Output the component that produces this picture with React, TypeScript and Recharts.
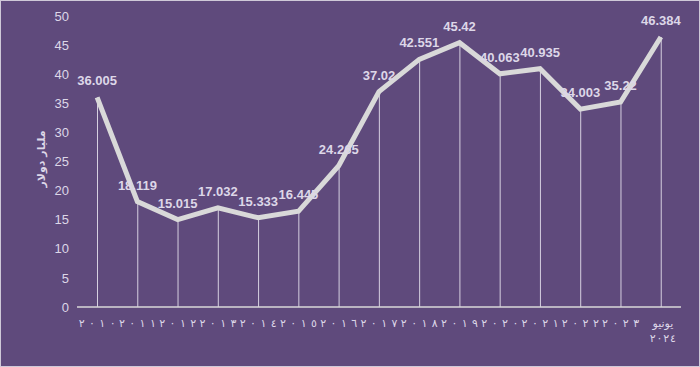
import { Bar, ComposedChart, LabelList, Line, XAxis, YAxis, Label } from 'recharts';

const years = [
  '٢٠١٠', '٢٠١١', '٢٠١٢', '٢٠١٣', '٢٠١٤', '٢٠١٥', '٢٠١٦', '٢٠١٧',
  '٢٠١٨', '٢٠١٩', '٢٠٢٠', '٢٠٢١', '٢٠٢٢', '٢٠٢٣', 'يونيو ٢٠٢٤',
];
const values = [
  36.005, 18.119, 15.015, 17.032, 15.333, 16.445, 24.265, 37.02,
  42.551, 45.42, 40.063, 40.935, 34.003, 35.22, 46.384,
];
const yTicks = [0, 5, 10, 15, 20, 25, 30, 35, 40, 45, 50];

const palette = {
  bg: '#5f4a7c',
  line: '#d9d9d9',
  drop: '#d6d0e0',
  text: '#ddd7e8',
};

const chartData = years.map((year, i) => ({ year, value: values[i] }));

function YearTick(props: any) {
  const { x, y, payload } = props;
  const parts = String(payload.value).split(' ');
  const multi = parts.length > 1;
  return (
    <text
      x={x}
      y={y}
      textAnchor="middle"
      fill={palette.text}
      fontSize={11}
      fontFamily="DejaVu Sans"
    >
      {parts.map((p, i) => (
        <tspan
          key={i}
          x={multi ? x + 2 : x}
          dy={i === 0 ? 12 : 15}
          textLength={multi ? (i === 0 ? undefined : 26) : 37}
          lengthAdjust="spacing"
        >
          {p}
        </tspan>
      ))}
    </text>
  );
}

export default function App() {
  return (
    <div
      style={{
        position: 'fixed',
        top: 0,
        left: 0,
        width: 700,
        height: 367,
        boxSizing: 'border-box',
        background: palette.bg,
        border: '1px solid #cfc9d8',
      }}
    >
      <ComposedChart
        width={698}
        height={365}
        data={chartData}
        margin={{ top: 15, right: 18, left: 26, bottom: 20 }}
      >
        <XAxis
          dataKey="year"
          interval={0}
          tickLine={false}
          axisLine={{ stroke: palette.line, strokeWidth: 1.5 }}
          tick={<YearTick />}
          height={39}
        />
        <YAxis
          domain={[0, 50]}
          ticks={yTicks}
          axisLine={false}
          tickLine={false}
          width={50}
          tick={{ fill: palette.text, fontSize: 13, fontFamily: 'Liberation Sans' }}
        >
          <Label
            value="مليار دولار"
            angle={-90}
            position="insideLeft"
            offset={14}
            dy={26}
            style={{ fill: palette.text, fontSize: 11, fontWeight: 700, fontFamily: 'DejaVu Sans' }}
          />
        </YAxis>
        <Bar dataKey="value" barSize={1} fill={palette.drop} isAnimationActive={false} />
        <Line
          type="linear"
          dataKey="value"
          stroke={palette.line}
          strokeWidth={5}
          dot={false}
          isAnimationActive={false}
        >
          <LabelList
            dataKey="value"
            position="top"
            offset={12}
            fill={palette.text}
            fontSize={13}
            fontWeight={700}
            fontFamily="Liberation Sans"
          />
        </Line>
      </ComposedChart>
    </div>
  );
}
